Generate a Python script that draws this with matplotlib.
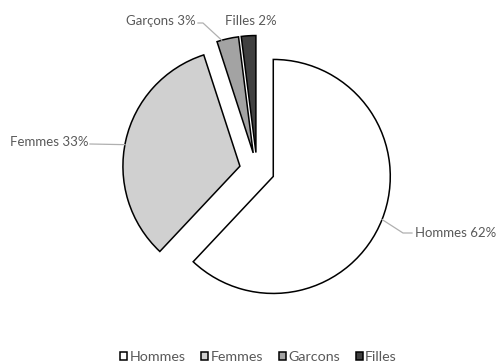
import numpy as np
import matplotlib
matplotlib.use('Agg')
import matplotlib.pyplot as plt

# données
categories = ['Hommes', 'Femmes', 'Garcons', 'Filles']
labels_pct = ['Hommes 62%', 'Femmes 33%', 'Garçons 3%', 'Filles 2%']
values = [62, 33, 3, 2]
colors = ['#ffffff', '#d0d0d0', '#a3a3a3', '#404040']

plt.rcParams['font.family'] = ['Lato', 'DejaVu Sans']
txt_color = '#595959'

fig = plt.figure(figsize=(4.97, 3.63), dpi=100)
ax = fig.add_axes([0, 0, 1, 1])

# pie in pixel-like data units (y up)
cx, cy, r, expl = 257, 193, 117, 17.5
wedges, _ = ax.pie(values, colors=colors, startangle=90, counterclock=False,
                   center=(cx, cy), radius=r, explode=[expl] * len(values),
                   wedgeprops=dict(edgecolor='black', linewidth=1.1))
ax.set_xlim(0, 497)
ax.set_ylim(0, 363)
ax.set_aspect('auto')
ax.axis('off')

def arc_point(w, frac=1.0, shift=0):
    ang = np.deg2rad((w.theta1 + w.theta2) / 2 + shift)
    return (w.center[0] + frac * w.r * np.cos(ang),
            w.center[1] + frac * w.r * np.sin(ang))

lc = '#b0b0b0'
# Hommes
p = arc_point(wedges[0])
ax.plot([p[0], 403, 412], [p[1], 130, 130], color=lc, lw=0.9)
ax.text(415, 130, labels_pct[0], ha='left', va='center', fontsize=9.5, color=txt_color)
# Femmes
p = arc_point(wedges[1], shift=2)
ax.plot([p[0], 90], [p[1], 219], color=lc, lw=0.9)
ax.text(88, 221, labels_pct[1], ha='right', va='center', fontsize=9.5, color=txt_color)
# Garçons
p = arc_point(wedges[2], shift=3)
ax.plot([p[0], 203, 198], [p[1], 340, 340], color=lc, lw=0.9)
ax.text(196, 342, labels_pct[2], ha='right', va='center', fontsize=9.5, color=txt_color)
# Filles
ax.text(225, 342, labels_pct[3], ha='left', va='center', fontsize=9.5, color=txt_color)

leg = fig.legend(wedges, categories, loc='lower center', bbox_to_anchor=(0.52, -0.035),
                 ncol=4, frameon=False, fontsize=10.3, handlelength=0.5, handleheight=0.5,
                 handletextpad=0.15, columnspacing=1.1, labelcolor=txt_color)

plt.savefig('out.png', dpi=100)
